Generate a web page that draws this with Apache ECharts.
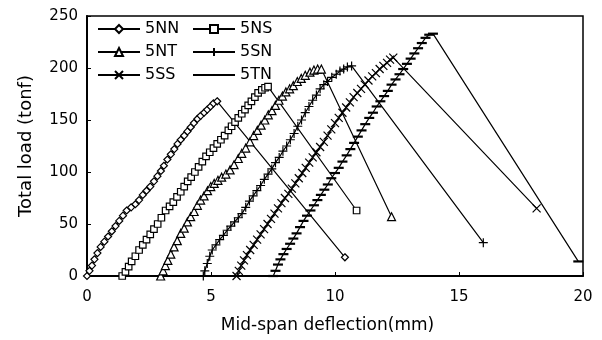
<!DOCTYPE html>
<html>
<head>
<meta charset="utf-8">
<script src="https://cdn.jsdelivr.net/npm/echarts@6/dist/echarts.min.js"></script>
<style>html,body{margin:0;padding:0;background:#fff;}#c{width:602px;height:340px;}</style>
</head>
<body>
<div id="c"></div>
<script>
// Series names
const seriesNames = ['5NN', '5NS', '5NT', '5SN', '5SS', '5TN'];
// Axis ticks
const xTicks = [0, 5, 10, 15, 20];
const yTicks = [0, 50, 100, 150, 200, 250];

// Data: [deflection (mm), load (tonf)]
const d5NN = [[0,0],[0.1,5],[0.2,10],[0.3,16],[0.42,22],[0.55,28],[0.7,33],[0.85,38],[1.0,43],[1.15,48],[1.3,53],[1.45,58],[1.6,63],[1.78,66],[1.95,69],[2.1,73],[2.25,78],[2.4,82],[2.55,86],[2.7,91],[2.84,96],[2.98,101],[3.1,106],[3.24,112],[3.38,117],[3.52,122],[3.65,127],[3.78,131],[3.92,135],[4.05,139],[4.18,143],[4.31,147],[4.45,151],[4.58,154],[4.72,157],[4.85,160],[4.98,163],[5.1,166],[5.25,168],[10.4,18]];
const d5NS = [[1.42,0],[1.55,4],[1.68,9],[1.8,14],[1.95,19],[2.1,25],[2.25,30],[2.4,35],[2.55,40],[2.7,45],[2.85,50],[3.0,56],[3.17,63],[3.33,67],[3.48,71],[3.63,76],[3.78,81],[3.92,86],[4.06,91],[4.2,95],[4.35,100],[4.5,105],[4.65,110],[4.8,115],[4.95,119],[5.1,123],[5.25,127],[5.4,131],[5.55,135],[5.7,140],[5.83,144],[5.97,148],[6.1,152],[6.24,156],[6.37,160],[6.5,164],[6.63,168],[6.77,172],[6.9,176],[7.05,179],[7.18,181],[7.3,182],[10.87,63]];
const d5NT = [[2.97,0],[3.07,5],[3.16,10],[3.26,15],[3.38,21],[3.51,28],[3.64,34],[3.78,41],[3.92,46],[4.05,52],[4.18,57],[4.32,62],[4.45,68],[4.58,73],[4.72,77],[4.86,82],[4.99,86],[5.13,89],[5.28,92],[5.43,95],[5.6,98],[5.77,102],[5.93,107],[6.1,113],[6.24,118],[6.4,123],[6.57,129],[6.72,135],[6.87,140],[7.02,145],[7.17,150],[7.31,155],[7.46,159],[7.6,164],[7.74,169],[7.88,173],[8.02,177],[8.17,180],[8.32,183],[8.48,187],[8.64,190],[8.8,193],[8.99,196],[9.15,198],[9.3,199],[9.45,199],[12.28,57]];
const d5SN = [[4.69,0],[4.75,5],[4.85,12],[4.95,19],[5.05,25],[5.2,30],[5.35,35],[5.5,39],[5.65,44],[5.8,48],[5.95,52],[6.1,56],[6.25,60],[6.4,66],[6.55,72],[6.7,77],[6.85,82],[7.0,87],[7.15,93],[7.3,98],[7.45,103],[7.6,109],[7.75,114],[7.9,120],[8.05,125],[8.2,131],[8.35,137],[8.5,144],[8.65,150],[8.8,157],[8.95,163],[9.1,169],[9.25,174],[9.4,180],[9.55,184],[9.7,187],[9.87,191],[10.05,194],[10.2,197],[10.35,199],[10.5,201],[10.67,202],[15.98,32]];
const d5SS = [[6.03,0],[6.12,5],[6.22,10],[6.33,15],[6.45,20],[6.58,25],[6.72,30],[6.86,35],[7.0,40],[7.14,45],[7.28,50],[7.42,55],[7.56,60],[7.7,65],[7.84,70],[7.98,75],[8.12,79],[8.26,84],[8.4,89],[8.54,94],[8.68,99],[8.82,104],[8.96,109],[9.1,114],[9.25,119],[9.4,124],[9.55,129],[9.7,135],[9.85,141],[10.0,147],[10.15,152],[10.3,157],[10.45,162],[10.6,167],[10.75,172],[10.9,176],[11.05,180],[11.2,184],[11.35,188],[11.5,192],[11.65,195],[11.8,199],[11.95,202],[12.1,205],[12.22,208],[12.35,210],[18.13,65]];
const d5TN = [[7.51,0],[7.6,5],[7.7,11],[7.8,16],[7.92,21],[8.05,26],[8.19,31],[8.32,36],[8.45,41],[8.59,47],[8.73,53],[8.87,58],[9.01,63],[9.15,68],[9.29,73],[9.43,78],[9.57,83],[9.71,88],[9.85,94],[10.0,99],[10.15,104],[10.3,110],[10.47,116],[10.62,122],[10.77,128],[10.92,134],[11.07,140],[11.22,146],[11.38,152],[11.53,157],[11.68,163],[11.83,168],[11.98,173],[12.13,178],[12.28,184],[12.44,189],[12.6,194],[12.75,199],[12.9,204],[13.05,209],[13.2,214],[13.35,219],[13.5,224],[13.65,229],[13.8,232],[13.95,233],[19.81,14]];

const seriesData = [d5NN, d5NS, d5NT, d5SN, d5SS, d5TN];

const FONT = 'DejaVu Sans';
const symbols = [
  {symbol: 'diamond', size: 7, fill: '#fff', bw: 1.2},
  {symbol: 'rect', size: 6.5, fill: '#fff', bw: 1.2},
  {symbol: 'triangle', size: 8, fill: '#fff', bw: 1.2},
  {symbol: 'path://M0,-1L0,1M-1,0L1,0', size: 9, fill: '#000', bw: 1.2},
  {symbol: 'path://M-1,-1L1,1M-1,1L1,-1', size: 8, fill: '#000', bw: 1.2},
  {symbol: 'path://M-1,0L1,0M-1,-1L-1,-1M1,1L1,1', size: 10, fill: '#000', bw: 2.2}
];

const chart = echarts.init(document.getElementById('c'), null, {renderer: 'canvas'});
const legendCommon = {
  orient: 'vertical', top: 21, padding: 0, itemWidth: 42, itemHeight: 10, itemGap: 7,
  textStyle: {fontFamily: FONT, fontSize: 16, color: '#000'}
};
chart.setOption({
  animation: false,
  backgroundColor: '#fff',
  textStyle: {fontFamily: FONT, color: '#000'},
  grid: {left: 87, right: 19, top: 16, bottom: 64, show: true, borderColor: '#000', borderWidth: 1.5, backgroundColor: 'transparent'},
  legend: [
    Object.assign({data: [seriesNames[0], seriesNames[2], seriesNames[4]], left: 97}, legendCommon),
    Object.assign({data: [seriesNames[1], seriesNames[3], seriesNames[5]], left: 192}, legendCommon)
  ],
  xAxis: {
    type: 'value', min: xTicks[0], max: xTicks[xTicks.length - 1], interval: 5,
    name: 'Mid-span deflection(mm)', nameLocation: 'middle', nameGap: 41,
    nameTextStyle: {fontFamily: FONT, fontSize: 17, color: '#000', padding: [0, 15, 0, 0]},
    axisLine: {show: true, lineStyle: {color: '#000', width: 2}},
    axisTick: {show: true, inside: true, length: 4, lineStyle: {color: '#000'}},
    axisLabel: {fontFamily: FONT, fontSize: 15, color: '#000', margin: 14},
    splitLine: {show: false}
  },
  yAxis: {
    type: 'value', min: yTicks[0], max: yTicks[yTicks.length - 1], interval: 50,
    name: 'Total load (tonf)', nameLocation: 'middle', nameGap: 52, nameRotate: 90,
    nameTextStyle: {fontFamily: FONT, fontSize: 18, color: '#000'},
    axisLine: {show: true, lineStyle: {color: '#000', width: 2}},
    axisTick: {show: true, inside: true, length: 4, lineStyle: {color: '#000'}},
    axisLabel: {fontFamily: FONT, fontSize: 15, color: '#000', margin: 9},
    splitLine: {show: false}
  },
  series: seriesNames.map((n, i) => ({
    name: n, type: 'line', data: seriesData[i],
    symbol: symbols[i].symbol, symbolSize: symbols[i].size, symbolKeepAspect: true,
    showAllSymbol: true,
    lineStyle: {color: '#000', width: 1.2},
    itemStyle: {color: symbols[i].fill, borderColor: '#000', borderWidth: symbols[i].bw},
    emphasis: {disabled: true}
  }))
});
</script>
</body>
</html>
